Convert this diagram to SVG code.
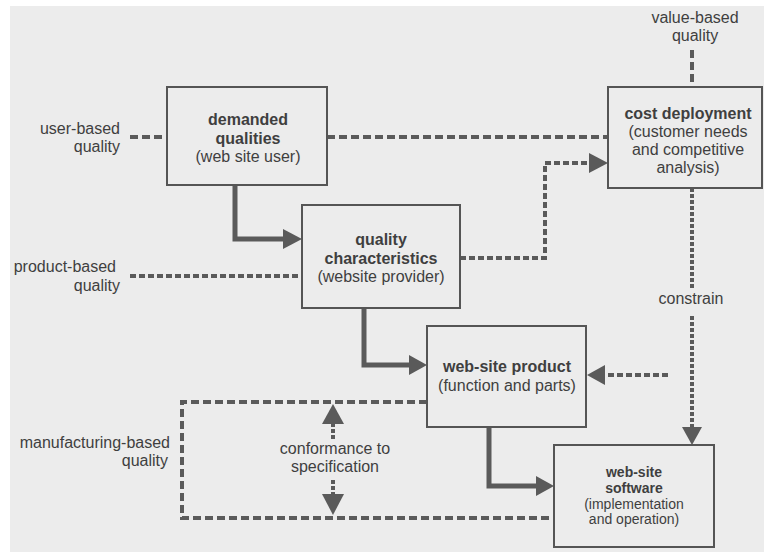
<svg xmlns="http://www.w3.org/2000/svg" width="764" height="552" viewBox="0 0 764 552">
<defs>
<style>
.box{fill:none;stroke:#555;stroke-width:2}
.t{font-family:"Liberation Sans",Arial,sans-serif;font-size:16px;fill:#3f3f3f}
.b{font-weight:bold}
.s{font-size:14px}
.solid{fill:none;stroke:#5a5a5a;stroke-width:5}
.dash{fill:none;stroke:#5a5a5a;stroke-width:4;stroke-dasharray:8 4}
.fine{fill:none;stroke:#5a5a5a;stroke-width:4;stroke-dasharray:6 3}
.dot{fill:none;stroke:#5a5a5a;stroke-width:4;stroke-dasharray:4 2}
.ah{fill:#5a5a5a}
</style>
</defs>
<rect x="0" y="0" width="764" height="552" fill="#ffffff"/>
<rect x="10" y="6" width="754" height="546" fill="#ececec"/>

<g id="connectors">
<path class="dash" d="M130 137 H167"/>
<path class="dash" d="M327 137 H608"/>
<path class="solid" d="M235 185 V239 H286"/>
<polygon class="ah" points="283,229 302,239 283,249"/>
<path class="fine" d="M130 276 H302"/>
<path class="fine" d="M460 258 H545 V163 H592"/>
<polygon class="ah" points="589,153 608,163 589,173"/>
<path class="solid" d="M364 308 V365 H412"/>
<polygon class="ah" points="409,355 427,365 409,375"/>
<path class="dash" d="M692 50 V87"/>
<path class="dot" d="M692 188 V288"/>
<path class="dot" d="M692 316 V430"/>
<polygon class="ah" points="682,427 702,427 692,445"/>
<path class="fine" d="M668 375 H603"/>
<polygon class="ah" points="605,365 605,385 587,375"/>
<path class="solid" d="M489 427 V486 H539"/>
<polygon class="ah" points="536,476 554,486 536,496"/>
<path class="dash" d="M427 402 H182 V518 H554"/>
<path class="dot" d="M333 439 V422"/>
<polygon class="ah" points="322,424 344,424 333,404"/>
<path class="dot" d="M333 480 V496"/>
<polygon class="ah" points="322,494 344,494 333,515"/>
</g>

<g id="demanded-qualities">
<rect class="box" x="167" y="87" width="160" height="98"/>
<text class="t b" x="248" y="125" text-anchor="middle">demanded</text>
<text class="t b" x="248" y="143.5" text-anchor="middle">qualities</text>
<text class="t" x="248" y="162" text-anchor="middle">(web site user)</text>
</g>

<g id="quality-characteristics">
<rect class="box" x="302" y="205" width="158" height="103"/>
<text class="t b" x="381" y="245" text-anchor="middle">quality</text>
<text class="t b" x="381" y="264" text-anchor="middle">characteristics</text>
<text class="t" x="381" y="282" text-anchor="middle">(website provider)</text>
</g>

<g id="cost-deployment">
<rect class="box" x="608" y="87" width="154" height="101"/>
<text class="t b" x="688" y="119" text-anchor="middle">cost deployment</text>
<text class="t" x="688" y="137" text-anchor="middle">(customer needs</text>
<text class="t" x="688" y="155" text-anchor="middle">and competitive</text>
<text class="t" x="688" y="173" text-anchor="middle">analysis)</text>
</g>

<g id="web-site-product">
<rect class="box" x="427" y="326" width="159" height="101"/>
<text class="t b" x="507" y="372" text-anchor="middle">web-site product</text>
<text class="t" x="507" y="391" text-anchor="middle">(function and parts)</text>
</g>

<g id="web-site-software">
<rect class="box" x="554" y="445" width="160" height="102"/>
<text class="t b s" x="634" y="477" text-anchor="middle">web-site</text>
<text class="t b s" x="634" y="493" text-anchor="middle">software</text>
<text class="t s" x="634" y="509" text-anchor="middle">(implementation</text>
<text class="t s" x="634" y="524" text-anchor="middle">and operation)</text>
</g>

<g id="user-based-quality">
<text class="t" x="120" y="134" text-anchor="end">user-based</text>
<text class="t" x="120" y="152" text-anchor="end">quality</text>
</g>
<g id="product-based-quality">
<text class="t" x="116" y="272" text-anchor="end">product-based</text>
<text class="t" x="120" y="291" text-anchor="end">quality</text>
</g>
<g id="manufacturing-based-quality">
<text class="t" x="170" y="448" text-anchor="end">manufacturing-based</text>
<text class="t" x="168" y="466" text-anchor="end">quality</text>
</g>
<g id="value-based-quality">
<text class="t" x="695" y="23" text-anchor="middle">value-based</text>
<text class="t" x="695" y="41" text-anchor="middle">quality</text>
</g>
<g id="conformance-label">
<text class="t" x="335" y="454" text-anchor="middle">conformance to</text>
<text class="t" x="335" y="472" text-anchor="middle">specification</text>
</g>
<g id="constrain-label">
<text class="t" x="691" y="304" text-anchor="middle">constrain</text>
</g>
</svg>
